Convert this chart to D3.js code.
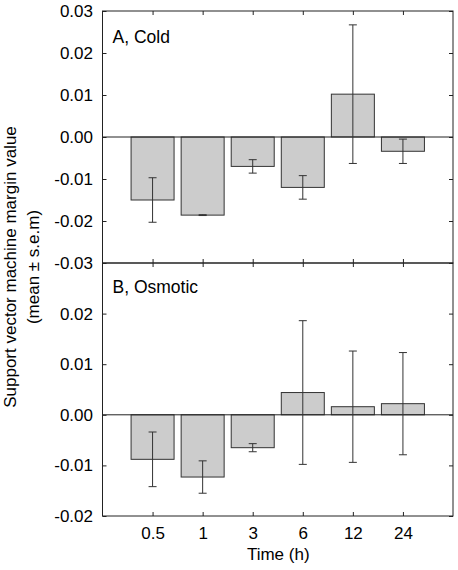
<!DOCTYPE html>
<html>
<head>
<meta charset="utf-8">
<script src="https://cdn.jsdelivr.net/npm/d3@7"></script>
<style>
  html, body { margin: 0; padding: 0; background: #fff; }
  svg { display: block; font-family: Arial, "Liberation Sans", sans-serif; }
</style>
</head>
<body>
<svg id="chart" width="458" height="570"></svg>
<script>
const categories = ["0.5", "1", "3", "6", "12", "24"];
const coldMeans = [-0.0150, -0.0186, -0.0070, -0.0120, 0.0102, -0.0034];
const coldErrors = [0.0053, 0.0001, 0.0016, 0.0028, 0.0165, 0.0029];
const osmoticMeans = [-0.0088, -0.0123, -0.0065, 0.0044, 0.0016, 0.0022];
const osmoticErrors = [0.0054, 0.0032, 0.0008, 0.0142, 0.0110, 0.0101];
const coldTicks = [-0.03, -0.02, -0.01, 0.00, 0.01, 0.02, 0.03];
const osmoticTicks = [-0.02, -0.01, 0.00, 0.01, 0.02];

const svg = d3.select("#chart");
const left = 102.5, right = 453;
const axisColor = "#222";
const fontFam = "Arial, 'Liberation Sans', sans-serif";

const x = d3.scalePoint().domain(categories).range([left, right]).padding(1);
const barW = 43;

const panels = [
  { name: "A, Cold", means: coldMeans, errs: coldErrors, domain: [-0.03, 0.03], range: [263, 11], ticks: coldTicks, labelY: 42.5, showX: false },
  { name: "B, Osmotic", means: osmoticMeans, errs: osmoticErrors, domain: [-0.02, 0.03], range: [516, 263], ticks: osmoticTicks, labelY: 293, showX: true }
];

panels.forEach(p => {
  const y = d3.scaleLinear().domain(p.domain).range(p.range);
  const g = svg.append("g");
  const top = p.range[1], bottom = p.range[0];

  // bars
  g.selectAll("rect.bar").data(p.means).join("rect")
    .attr("class", "bar")
    .attr("x", (d, i) => x(categories[i]) - barW / 2)
    .attr("width", barW)
    .attr("y", d => Math.min(y(d), y(0)))
    .attr("height", d => Math.abs(y(d) - y(0)))
    .attr("fill", "#cccccc")
    .attr("stroke", "#333")
    .attr("stroke-width", 1);

  // zero line
  g.append("line")
    .attr("x1", left).attr("x2", right)
    .attr("y1", y(0)).attr("y2", y(0))
    .attr("stroke", axisColor).attr("stroke-width", 1);

  // error bars
  const eb = g.selectAll("g.err").data(p.means).join("g").attr("class", "err")
    .attr("stroke", "#333").attr("stroke-width", 1);
  eb.append("line")
    .attr("x1", (d, i) => x(categories[i])).attr("x2", (d, i) => x(categories[i]))
    .attr("y1", (d, i) => y(d + p.errs[i])).attr("y2", (d, i) => y(d - p.errs[i]));
  eb.append("line")
    .attr("x1", (d, i) => x(categories[i]) - 4).attr("x2", (d, i) => x(categories[i]) + 4)
    .attr("y1", (d, i) => y(d + p.errs[i])).attr("y2", (d, i) => y(d + p.errs[i]));
  eb.append("line")
    .attr("x1", (d, i) => x(categories[i]) - 4).attr("x2", (d, i) => x(categories[i]) + 4)
    .attr("y1", (d, i) => y(d - p.errs[i])).attr("y2", (d, i) => y(d - p.errs[i]));

  // left axis
  const la = g.append("g").attr("transform", `translate(${left},0)`)
    .call(d3.axisLeft(y).tickValues(p.ticks).tickFormat(d3.format(".2f")).tickSize(-4).tickPadding(9.5));
  la.select(".domain").remove();
  la.selectAll("line").attr("stroke", axisColor);
  la.selectAll("text").attr("font-size", 17).attr("fill", "#000")
    .attr("font-family", fontFam)
    .text(d => d3.format(".2f")(d).replace("−", "-"));

  // right axis ticks
  const ra = g.append("g").attr("transform", `translate(${right},0)`)
    .call(d3.axisRight(y).tickValues(p.ticks).tickSize(-4).tickFormat(""));
  ra.select(".domain").remove();
  ra.selectAll("line").attr("stroke", axisColor);

  // top ticks
  const ta = g.append("g").attr("transform", `translate(0,${top})`)
    .call(d3.axisTop(x).tickSize(-4).tickFormat(""));
  ta.select(".domain").remove();
  ta.selectAll("line").attr("stroke", axisColor);

  // bottom ticks
  const ba = g.append("g").attr("transform", `translate(0,${bottom})`)
    .call(d3.axisBottom(x).tickSize(-4).tickPadding(11).tickFormat(p.showX ? (d => d) : ""));
  ba.select(".domain").remove();
  ba.selectAll("line").attr("stroke", axisColor);
  ba.selectAll("text").attr("font-size", 17).attr("fill", "#000")
    .attr("font-family", fontFam);

  // frame
  g.append("rect")
    .attr("x", left).attr("y", top)
    .attr("width", right - left).attr("height", bottom - top)
    .attr("fill", "none").attr("stroke", axisColor).attr("stroke-width", 1);

  // panel label
  g.append("text")
    .attr("x", 112.5).attr("y", p.labelY)
    .attr("font-size", 17.5).attr("fill", "#000")
    .text(p.name);
});

// axis titles
svg.append("text")
  .attr("transform", "translate(16,267) rotate(-90)")
  .attr("text-anchor", "middle").attr("font-size", 17).attr("fill", "#000")
  .text("Support vector machine margin value");
svg.append("text")
  .attr("transform", "translate(38.5,267) rotate(-90)")
  .attr("text-anchor", "middle").attr("font-size", 17).attr("fill", "#000")
  .text("(mean ± s.e.m)");
svg.append("text")
  .attr("x", (left + right) / 2 + 0.5).attr("y", 560)
  .attr("text-anchor", "middle").attr("font-size", 17).attr("fill", "#000")
  .text("Time (h)");
</script>
</body>
</html>
